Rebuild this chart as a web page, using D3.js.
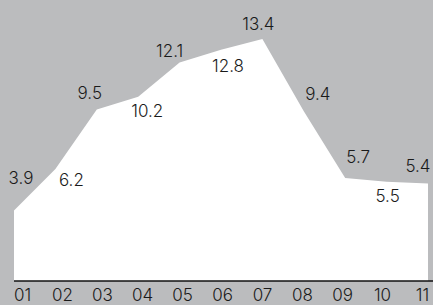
<!DOCTYPE html>
<html>
<head>
<meta charset="utf-8">
<script src="https://cdn.jsdelivr.net/npm/d3@7"></script>
<style>
  html, body { margin: 0; padding: 0; background: #bbbcbe; }
  svg { display: block; }
  text { font-family: Inter, "Noto Sans", sans-serif; font-weight: 300; fill: #1a1a1a; }
</style>
</head>
<body>
<svg></svg>
<script>
const months = ["01", "02", "03", "04", "05", "06", "07", "08", "09", "10", "11"];
const values = [3.9, 6.2, 9.5, 10.2, 12.1, 12.8, 13.4, 9.4, 5.7, 5.5, 5.4];

// hand placed label nudges, relative to each point
const labelNudge = [
  [7, -27], [16, 17], [-7, -10], [9, 20], [-10, -5], [7, 22],
  [-4, -9], [14, -11], [13, -15], [1, 20], [-10, -11]
];

const width = 433;
const height = 305;
const baseY = 281;

const svg = d3.select("svg")
  .attr("width", width)
  .attr("height", height);

svg.append("rect")
  .attr("width", width)
  .attr("height", height)
  .style("fill", "#bbbcbe");

const xScale = d3.scalePoint().domain(months).range([14, 428]);
const yScale = d3.scaleLinear().domain([0, 13.4]).range([baseY, 39]);

// tick labels sit on their own slightly narrower band
const tickScale = d3.scalePoint().domain(months).range([22, 422]);

const area = d3.area()
  .x((d, i) => xScale(months[i]))
  .y0(yScale(0))
  .y1((d) => yScale(d));

svg.append("path")
  .datum(values)
  .attr("d", area)
  .style("fill", "#ffffff");

svg.append("line")
  .attr("x1", xScale(months[0]))
  .attr("x2", width)
  .attr("y1", yScale(0))
  .attr("y2", yScale(0))
  .style("stroke", "#111")
  .style("stroke-width", 1.5);

const xAxis = d3.axisBottom(tickScale).tickSize(0);
const axisG = svg.append("g")
  .attr("transform", "translate(0, " + baseY + ")")
  .call(xAxis);
axisG.select(".domain").remove();
axisG.selectAll("text")
  .attr("y", 19.5)
  .attr("dy", 0)
  .style("font-size", "17px")
  .style("font-weight", 300)
  .style("font-family", "Inter, 'Noto Sans', sans-serif")
  .style("fill", "#1a1a1a");

svg.selectAll(".val")
  .data(values)
  .enter()
  .append("text")
  .attr("class", "val")
  .attr("x", (d, i) => xScale(months[i]) + labelNudge[i][0])
  .attr("y", (d, i) => yScale(d) + labelNudge[i][1])
  .attr("text-anchor", "middle")
  .style("font-size", "17px")
  .text((d) => d.toFixed(1));
</script>
</body>
</html>
